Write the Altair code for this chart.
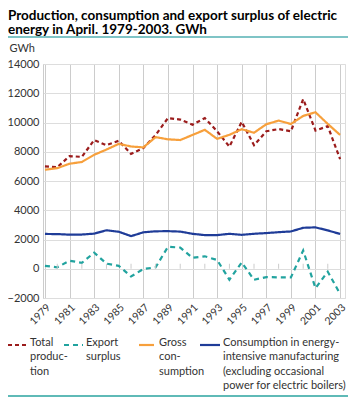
import altair as alt
import pandas as pd

years = [1979, 1980, 1981, 1982, 1983, 1984, 1985, 1986, 1987, 1988, 1989, 1990,
         1991, 1992, 1993, 1994, 1995, 1996, 1997, 1998, 1999, 2000, 2001, 2002, 2003]
production = [7000, 6950, 7700, 7650, 8800, 8450, 8750, 7850, 8250, 9150, 10300, 10200,
              9850, 10300, 9400, 8350, 10050, 8450, 9400, 9550, 9400, 11600, 9450, 9750, 7500]
export = [200, 100, 550, 400, 1100, 350, 200, -530, -20, 100, 1500, 1450,
          750, 850, 600, -750, 430, -750, -570, -590, -590, 1250, -1330, -200, -1720]
gross = [6770, 6880, 7180, 7300, 7790, 8150, 8540, 8360, 8300, 9000, 8850, 8800,
         9150, 9500, 8880, 9160, 9540, 9300, 9880, 10130, 9900, 10450, 10700, 9900, 9150]
energy = [2380, 2370, 2330, 2340, 2400, 2630, 2530, 2230, 2490, 2560, 2570, 2540,
          2390, 2300, 2300, 2390, 2320, 2390, 2440, 2500, 2550, 2800, 2830, 2620, 2380]

series = ["Total production", "Export surplus", "Gross consumption",
          "Consumption in energy-intensive manufacturing"]
legend_lines = [["Total", "produc-", "tion"],
                ["Export", "surplus"],
                ["Gross", "con-", "sumption"],
                ["Consumption in energy-", "intensive manufacturing",
                 "(excluding occasional", "power for electric boilers)"]]
colors = ["#9b1c1c", "#21a39f", "#f7a03c", "#1f3c98"]
dashes = [[4, 3], [5, 4], [], []]
x_ticks = [1979, 1981, 1983, 1985, 1987, 1989, 1991, 1993, 1995, 1997, 1999, 2001, 2003]
zero_ticks = [1980, 1982, 1984, 1986, 1988, 1990, 1992, 1994, 1996, 1998, 2000, 2002]
y_ticks = [-2000, 0, 2000, 4000, 6000, 8000, 10000, 12000, 14000]

rows = []
for name, vals in zip(series, [production, export, gross, energy]):
    for yr, v in zip(years, vals):
        rows.append({"year": yr, "value": v, "series": name})
df = pd.DataFrame(rows)
zero_df = pd.DataFrame({"year": zero_ticks, "value": [0] * len(zero_ticks)})
legend_df = pd.DataFrame({"series": series,
                          "label": ["\n".join(l) for l in legend_lines]})

FONT = "Lato"
H = 234
x_scale = alt.Scale(domain=[1978.84, 2003.4], nice=False, zero=False)
y_scale = alt.Scale(domain=[-2000, 14000], nice=False)
color_scale = alt.Scale(domain=series, range=colors)

x_axis = alt.Axis(values=x_ticks, format="d", labelAngle=315, grid=True,
                  gridColor="#cccccc", ticks=False, domain=False, labelOverlap=False,
                  labelFontSize=10.5, labelColor="#333333", labelPadding=4, title=None)
y_axis = alt.Axis(values=y_ticks, format="d", grid=True, gridColor="#dddddd",
                  ticks=False, domain=True, domainColor="#cccccc", labelOverlap=False,
                  labelFontSize=11, labelColor="#333333", labelPadding=4,
                  title="GWh", titleAngle=0, titleAlign="left",
                  titleBaseline="bottom", titleX=-34, titleY=-11,
                  titleFontWeight="normal", titleFontSize=11, titleColor="#333333")

lines = alt.Chart(df).mark_line(strokeWidth=2.2).encode(
    x=alt.X("year:Q", scale=x_scale, axis=x_axis),
    y=alt.Y("value:Q", scale=y_scale, axis=y_axis),
    color=alt.Color("series:N", scale=color_scale, sort=series, legend=None),
    strokeDash=alt.StrokeDash("series:N",
                              scale=alt.Scale(domain=series, range=[d or [1, 0] for d in dashes]),
                              sort=series, legend=None),
)

zero_marks = alt.Chart(zero_df).mark_tick(orient="vertical", size=5, thickness=1,
                                          color="#cccccc", yOffset=-2.5, opacity=1).encode(
    x=alt.X("year:Q", scale=x_scale, axis=x_axis),
    y=alt.Y("value:Q", scale=y_scale, axis=y_axis))

# legend (hand-built, as the original uses a free flow layout)
LX0 = 43   # absolute x of plot left
LY0 = 64   # absolute y of plot top
entries = [  # symbol start, symbol end, text start (absolute page pixels)
    (8, 27, 30),
    (64, 83, 86),
    (139, 154, 159),
    (200, 220, 223),
]
legend_layers = []
for name, dash, (s1, s2, t1) in zip(series, dashes, entries):
    rule_kw = {"strokeWidth": 2.2}
    if dash:
        rule_kw["strokeDash"] = dash
    legend_layers.append(
        alt.Chart(legend_df).transform_filter(alt.datum.series == name)
        .mark_rule(**rule_kw).encode(
            x=alt.value(s1 - LX0), x2=alt.value(s2 - LX0), y=alt.value(345 - LY0),
            color=alt.Color("series:N", scale=color_scale, legend=None)))
    legend_layers.append(
        alt.Chart(legend_df).transform_filter(alt.datum.series == name)
        .mark_text(align="left", baseline="alphabetic", lineBreak="\n", lineHeight=14.3,
                   fontSize=11, color="#333333", font=FONT).encode(
            x=alt.value(t1 - LX0), y=alt.value(346 - LY0), text="label:N"))

top_rule = alt.Chart(legend_df.head(1)).mark_rule(color="#7fc4c6", strokeWidth=2).encode(
    x=alt.value(8 - LX0), x2=alt.value(350 - LX0), y=alt.value(37 - LY0))
bottom_rule = alt.Chart(legend_df.head(1)).mark_rule(color="#2aa39f", strokeWidth=1.5).encode(
    x=alt.value(8 - LX0), x2=alt.value(350 - LX0), y=alt.value(396 - LY0))

chart = alt.layer(lines, zero_marks, *legend_layers, top_rule, bottom_rule).properties(
    width=302, height=H,
    autosize=alt.AutoSizeParams(type="none"),
    padding={"left": 35, "top": 56, "right": 3, "bottom": 100},
    title=alt.TitleParams(
        text=["Production, consumption and export surplus of electric",
              "energy in April. 1979-2003. GWh"],
        anchor="start", frame="group", dx=-35, offset=0, fontSize=13.5,
        fontWeight="bold", font=FONT, color="#000000", lineHeight=14),
).configure(font=FONT).configure_view(stroke="#dddddd")

chart.save("out.html", embed_options={"renderer": "svg", "actions": False})
